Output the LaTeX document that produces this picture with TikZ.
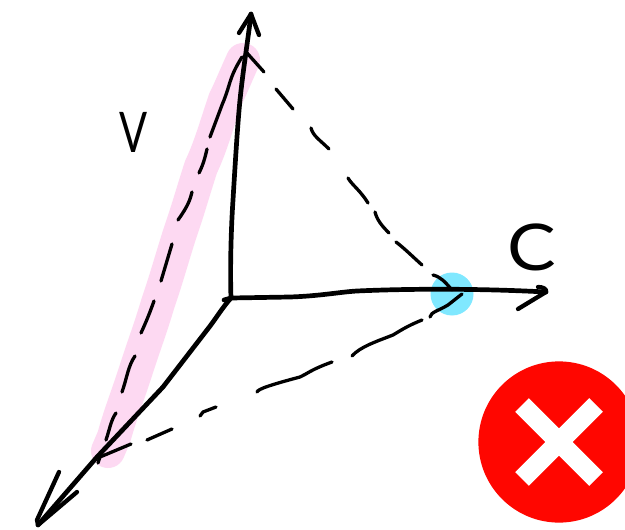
\documentclass[tikz,border=0pt]{standalone}
\usepackage{fontspec}
\setmainfont{Lato}
\definecolor{hlpink}{HTML}{FDD9F2}
\definecolor{hlblue}{HTML}{80E8FF}
\definecolor{badred}{HTML}{FF0600}
\tikzset{
  axisline/.style={line width=4.7pt,line cap=round,line join=round,black},
  tipline/.style={line width=4.3pt,line cap=round,line join=round,black},
  dashpiece/.style={line width=3.3pt,line cap=round,line join=round,black},
  hllabel/.style={inner sep=0pt,font=\fontsize{56}{56}\selectfont,black},
}
\begin{document}
\begin{tikzpicture}[x=1pt,y=-1pt]
\useasboundingbox (0,0) rectangle (625,530);
\fill[white] (0,0) rectangle (625,530);
% highlights
\draw[hlpink,line width=34pt,line cap=round,line join=round]
  (243,60) .. controls (234,80) and (230,90) .. (225,100)
  .. controls (215,130) and (210,148) .. (201,167)
  .. controls (192,195) and (188,210) .. (180,233)
  .. controls (172,258) and (166,280) .. (158,303)
  .. controls (150,330) and (144,345) .. (136,370)
  .. controls (128,395) and (120,415) .. (114,437)
  -- (108,451);
\fill[hlblue] (452,294) circle (21.5);
% badge
\begin{scope}
\clip (0,0) rectangle (625,530);
\fill[badred] (559,442) circle (80.6);
\draw[white,line width=19.3pt] (522,405) -- (596,479);
\draw[white,line width=19.3pt] (522,479) -- (596,405);
\end{scope}
% dashes, V side
\draw[dashpiece] (242,57) .. controls (234,70) and (232,76) .. (230,82) .. controls (227,92) and (225,98) .. (222,105) -- (210,137);
\draw[dashpiece] (207,149) .. controls (205,158) and (203,165) .. (199,173);
\draw[dashpiece] (192,192) .. controls (190,200) and (188,206) .. (178,220);
\draw[dashpiece] (172,244) -- (161,281);
\draw[dashpiece] (154,301) .. controls (149,315) and (146,322) .. (141,333);
\draw[dashpiece] (135,356) .. controls (128,366) and (127,378) .. (122,392);
\draw[dashpiece] (116,413) .. controls (111,420) and (110,428) .. (106,440);
\draw[dashpiece] (131,444) -- (100,457) -- (98,463);
% dashes, lower
\draw[dashpiece] (172,429) -- (147,440);
\draw[dashpiece] (216,407) -- (203,412) -- (200,416);
\draw[dashpiece] (257,392) .. controls (258,389) and (270,385) .. (300,377) .. controls (307,374) and (310,370) .. (332,362);
\draw[dashpiece] (352,356) .. controls (360,347) and (375,342) .. (393,335) .. controls (400,331) and (405,327) .. (422,320);
\draw[dashpiece] (430,317) .. controls (431,312) and (438,311) .. (448,305) -- (462,294);
% dashes, upper
\draw[dashpiece] (247,53) -- (264,72);
\draw[dashpiece] (276,89) -- (293,109);
\draw[dashpiece] (311,128) .. controls (313,136) and (320,140) .. (329,149);
\draw[dashpiece] (348,178) .. controls (352,185) and (360,190) .. (368,203);
\draw[dashpiece] (375,212) .. controls (377,220) and (382,226) .. (389,233);
\draw[dashpiece] (396,242) .. controls (404,248) and (412,256) .. (422,265);
\draw[dashpiece] (433,275) .. controls (441,277) and (445,282) .. (452,290);
% axes
\coordinate (origin) at (231,298);
\coordinate (topend) at (251,14);
\coordinate (rightend) at (546,292);
\coordinate (lowend) at (38,525);
\draw[axisline] (origin) .. controls (230,270) and (231,230) .. (233,200)
  .. controls (236,150) and (238,120) .. (240,100)
  .. controls (243,70) and (248,40) .. (topend);
\draw[tipline] (239,33) -- (topend) -- (259,35);
\draw[axisline] (224,300) -- (origin) -- (290,297)
  .. controls (320,296) and (340,292) .. (357,291)
  .. controls (400,289) and (470,288) .. (rightend);
\draw[tipline] (538,287) .. controls (543,287) and (547,289) .. (rightend) -- (518,309);
\draw[axisline] (origin) .. controls (222,308) and (215,320) .. (207,330)
  -- (163,387) -- (97,457) -- (lowend);
\draw[tipline] (59,472) -- (37,520) -- (lowend) -- (77,492);
% labels
\node[hllabel,xscale=.74] (vlabel) at (134,132) {V};
\node[hllabel,xscale=1.3,yscale=1.15] (clabel) at (532,247) {C};
\end{tikzpicture}
\end{document}
